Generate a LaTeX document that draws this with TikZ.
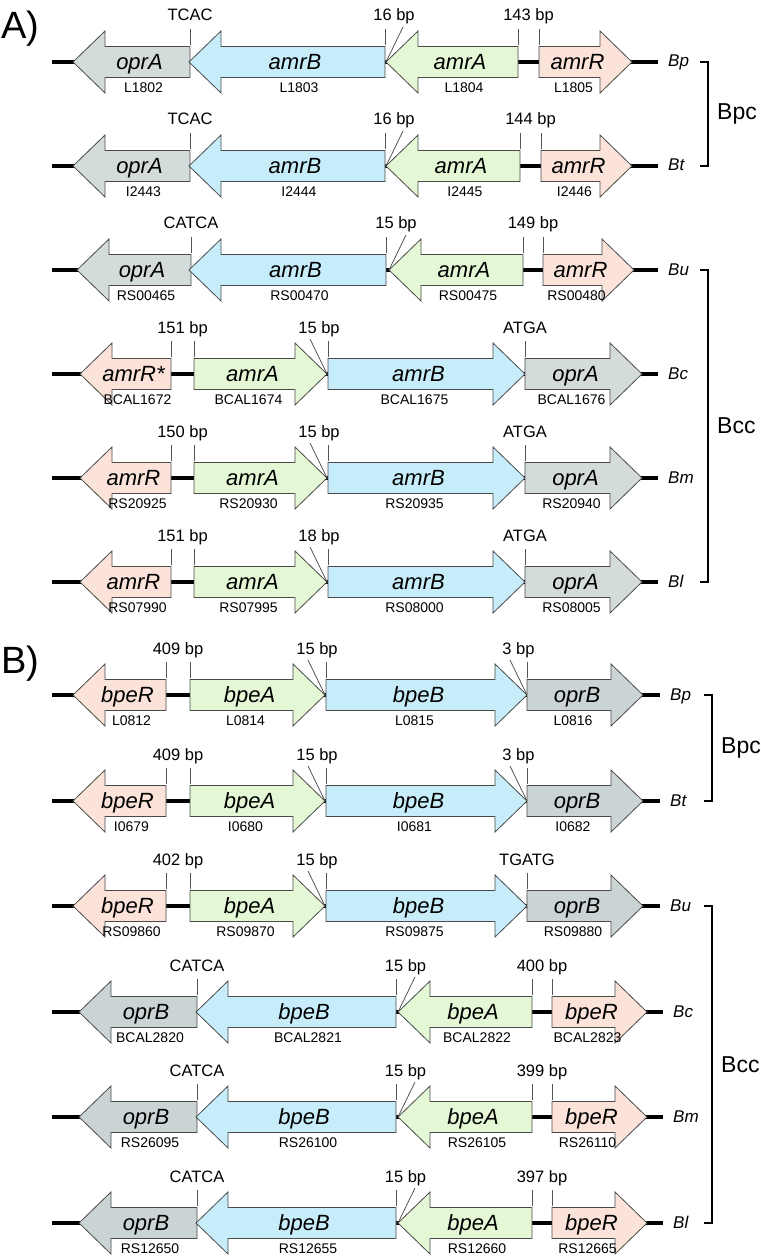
\documentclass[tikz,border=0pt]{standalone}
\usepackage{fontspec}
\setmainfont{Liberation Sans}
\usetikzlibrary{calc, backgrounds}
\definecolor{oprAgray}{HTML}{D3DCDA}
\definecolor{oprBgray}{HTML}{CBD4D4}
\definecolor{rndblue}{HTML}{C8EDFA}
\definecolor{mfpgreen}{HTML}{E4F8D6}
\definecolor{regpink}{HTML}{FBE3DA}
\definecolor{edgegray}{HTML}{4A4A4A}
\definecolor{tickgray}{HTML}{555555}

% arrow geometry (px)
\newcommand{\headlen}{32}
\newcommand{\headhw}{31}
\newcommand{\bodyhw}{15.5}

% gene arrow: name, tip x, tail x, row y, fill, gene, locus tag
\newcommand{\gene}[7]{%
  \pgfmathsetmacro{\gdir}{sign(#3-#2)}%
  \pgfmathsetmacro{\gbase}{#2+\gdir*\headlen}%
  \pgfmathsetmacro{\gmid}{(#2+#3)/2+\gdir*8}%
  \pgfmathsetmacro{\gtag}{(#2+#3)/2+\gdir*12}%
  \draw[genebox, fill=#5] (#2,#4) -- (\gbase,#4-\headhw) -- (\gbase,#4-\bodyhw)
    -- (#3,#4-\bodyhw) -- (#3,#4+\bodyhw) -- (\gbase,#4+\bodyhw)
    -- (\gbase,#4+\headhw) -- cycle;
  \coordinate (#1-tip) at (#2,#4);
  \coordinate (#1-tail) at (#3,#4);
  \node[gname] (#1) at (\gmid,#4+7.5) {#6};
  \node[gtag] (#1-id) at (\gtag,#4+30.5) {#7};
}
% backbone + strain name: prefix, west x, east x, row y, label, bracket x
\newcommand{\strain}[6]{%
  \coordinate (#1-w) at (#2,#4);
  \coordinate (#1-e) at (#3,#4);
  \coordinate (#1-k) at (#6,#4);
  \begin{pgfonlayer}{background}
    \draw[bb] (#1-w) -- (#1-e);
  \end{pgfonlayer}
  \node[strainlbl] (#1-sp) at (#3+10,#4+5) {#5};
}
% single tick with sequence above
\newcommand{\seqmark}[2]{%
  \draw[tk] ([yshift=17pt]#1) -- ([yshift=33pt]#1);
  \node[mk] (#1-seq) at ([yshift=41pt]#1) {#2};
}
% intergenic gap between two gene ends
\newcommand{\bpgap}[3]{%
  \draw[tk] ([yshift=17pt]#1) -- ([yshift=33pt]#1);
  \draw[tk] ([yshift=17pt]#2) -- ([yshift=33pt]#2);
  \node[mk] (#1-gap) at ($(#1)!0.5!(#2)+(0,-41)$) {#3};
}
% short spacer next to an arrow tip
\newcommand{\bpjoin}[4]{%
  \draw[tk] ([yshift=17pt]#2) -- ([yshift=33pt]#2);
  \draw[tk] (#1) -- ++(#3,-35);
  \node[mk] (#2-join) at ($(#2)!0.5!([xshift=#3pt]#1)+(0,-41)$) {#4};
}
% species group bracket
\newcommand{\clade}[4]{%
  \draw[brk] ([xshift=-8pt]#2-k) -- (#2-k) -- (#3-k) -- ([xshift=-8pt]#3-k);
  \node[grp] (#1) at ($(#2-k)!0.5!(#3-k)+(9,0)$) {#4};
}

\begin{document}
\begin{tikzpicture}[x=1pt, y=-1pt,
  genebox/.style={draw=edgegray, line width=0.8pt, line join=miter},
  bb/.style={black, line width=3.5pt},
  tk/.style={draw=tickgray, line width=0.8pt},
  brk/.style={black, line width=1.3pt},
  gname/.style={anchor=base, inner sep=0pt, font=\fontsize{22}{25}\selectfont\itshape},
  gtag/.style={anchor=base, inner sep=0pt, font=\fontsize{14}{16}\selectfont},
  mk/.style={anchor=base, inner sep=0pt, font=\fontsize{16.5}{18}\selectfont},
  strainlbl/.style={anchor=base west, inner sep=0pt, font=\fontsize{17}{20}\selectfont\itshape},
  grp/.style={anchor=west, inner sep=0pt, font=\fontsize{23}{26}\selectfont},
  panel/.style={anchor=base west, inner sep=0pt, font=\fontsize{38}{44}\selectfont},
]
\useasboundingbox (0,0) rectangle (760,1257);

% ===== A) amrAB-oprA =====
\node[panel] (pA) at (1,39) {A)};

% Bp
\gene{aPo}{73}{190}{62}{oprAgray}{oprA}{L1802}
\gene{aPb}{189}{385}{62}{rndblue}{amrB}{L1803}
\gene{aPa}{386}{518}{62}{mfpgreen}{amrA}{L1804}
\gene{aPr}{632}{539}{62}{regpink}{amrR}{L1805}
\strain{aP}{52}{658}{62}{Bp}{708}
\seqmark{aPo-tail}{TCAC}
\bpjoin{aPa-tip}{aPb-tail}{17}{16 bp}
\bpgap{aPa-tail}{aPr-tail}{143 bp}

% Bt
\gene{aTo}{73}{190}{166}{oprAgray}{oprA}{I2443}
\gene{aTb}{189}{385}{166}{rndblue}{amrB}{I2444}
\gene{aTa}{386}{520}{166}{mfpgreen}{amrA}{I2445}
\gene{aTr}{632}{541}{166}{regpink}{amrR}{I2446}
\strain{aT}{52}{658}{166}{Bt}{708}
\seqmark{aTo-tail}{TCAC}
\bpjoin{aTa-tip}{aTb-tail}{17}{16 bp}
\bpgap{aTa-tail}{aTr-tail}{144 bp}

% Bu
\gene{aUo}{77}{191}{270}{oprAgray}{oprA}{RS00465}
\gene{aUb}{189}{386}{270}{rndblue}{amrB}{RS00470}
\gene{aUa}{389}{523}{270}{mfpgreen}{amrA}{RS00475}
\gene{aUr}{634}{543}{270}{regpink}{amrR}{RS00480}
\strain{aU}{52}{658}{270}{Bu}{708}
\seqmark{aUo-tail}{CATCA}
\bpjoin{aUa-tip}{aUb-tail}{17}{15 bp}
\bpgap{aUa-tail}{aUr-tail}{149 bp}

% Bc
\gene{aCr}{80}{171}{374}{regpink}{amrR*}{BCAL1672}
\gene{aCa}{327}{194}{374}{mfpgreen}{amrA}{BCAL1674}
\gene{aCb}{525}{328}{374}{rndblue}{amrB}{BCAL1675}
\gene{aCo}{642}{525}{374}{oprAgray}{oprA}{BCAL1676}
\strain{aC}{52}{658}{374}{Bc}{708}
\bpgap{aCr-tail}{aCa-tail}{151 bp}
\bpjoin{aCa-tip}{aCb-tail}{-17}{15 bp}
\seqmark{aCo-tail}{ATGA}

% Bm
\gene{aMr}{80}{171}{478}{regpink}{amrR}{RS20925}
\gene{aMa}{327}{194}{478}{mfpgreen}{amrA}{RS20930}
\gene{aMb}{525}{328}{478}{rndblue}{amrB}{RS20935}
\gene{aMo}{642}{525}{478}{oprAgray}{oprA}{RS20940}
\strain{aM}{52}{658}{478}{Bm}{708}
\bpgap{aMr-tail}{aMa-tail}{150 bp}
\bpjoin{aMa-tip}{aMb-tail}{-17}{15 bp}
\seqmark{aMo-tail}{ATGA}

% Bl
\gene{aLr}{80}{171}{582}{regpink}{amrR}{RS07990}
\gene{aLa}{327}{194}{582}{mfpgreen}{amrA}{RS07995}
\gene{aLb}{525}{328}{582}{rndblue}{amrB}{RS08000}
\gene{aLo}{642}{525}{582}{oprAgray}{oprA}{RS08005}
\strain{aL}{52}{658}{582}{Bl}{708}
\bpgap{aLr-tail}{aLa-tail}{151 bp}
\bpjoin{aLa-tip}{aLb-tail}{-17}{18 bp}
\seqmark{aLo-tail}{ATGA}

\clade{aPc}{aP}{aT}{Bpc}
\clade{aCc}{aU}{aL}{Bcc}

% ===== B) bpeAB-oprB =====
\node[panel] (pB) at (1,673) {B)};

% Bp
\gene{bPr}{73}{166}{695}{regpink}{bpeR}{L0812}
\gene{bPa}{325}{190}{695}{mfpgreen}{bpeA}{L0814}
\gene{bPb}{527}{326}{695}{rndblue}{bpeB}{L0815}
\gene{bPo}{643}{527}{695}{oprBgray}{oprB}{L0816}
\strain{bP}{52}{660}{695}{Bp}{712}
\bpgap{bPr-tail}{bPa-tail}{409 bp}
\bpjoin{bPa-tip}{bPb-tail}{-17}{15 bp}
\bpjoin{bPb-tip}{bPo-tail}{-17}{3 bp}

% Bt
\gene{bTr}{73}{166}{801}{regpink}{bpeR}{I0679}
\gene{bTa}{325}{190}{801}{mfpgreen}{bpeA}{I0680}
\gene{bTb}{527}{326}{801}{rndblue}{bpeB}{I0681}
\gene{bTo}{643}{527}{801}{oprBgray}{oprB}{I0682}
\strain{bT}{52}{660}{801}{Bt}{712}
\bpgap{bTr-tail}{bTa-tail}{409 bp}
\bpjoin{bTa-tip}{bTb-tail}{-17}{15 bp}
\bpjoin{bTb-tip}{bTo-tail}{-17}{3 bp}

% Bu
\gene{bUr}{73}{166}{906}{regpink}{bpeR}{RS09860}
\gene{bUa}{325}{190}{906}{mfpgreen}{bpeA}{RS09870}
\gene{bUb}{527}{326}{906}{rndblue}{bpeB}{RS09875}
\gene{bUo}{643}{527}{906}{oprBgray}{oprB}{RS09880}
\strain{bU}{52}{660}{906}{Bu}{712}
\bpgap{bUr-tail}{bUa-tail}{402 bp}
\bpjoin{bUa-tip}{bUb-tail}{-17}{15 bp}
\seqmark{bUo-tail}{TGATG}

% Bc
\gene{bCo}{79}{197}{1012}{oprBgray}{oprB}{BCAL2820}
\gene{bCb}{196}{396}{1012}{rndblue}{bpeB}{BCAL2821}
\gene{bCa}{398}{532}{1012}{mfpgreen}{bpeA}{BCAL2822}
\gene{bCr}{647}{552}{1012}{regpink}{bpeR}{BCAL2823}
\strain{bC}{52}{663}{1012}{Bc}{712}
\seqmark{bCo-tail}{CATCA}
\bpjoin{bCa-tip}{bCb-tail}{17}{15 bp}
\bpgap{bCa-tail}{bCr-tail}{400 bp}

% Bm
\gene{bMo}{79}{197}{1117}{oprBgray}{oprB}{RS26095}
\gene{bMb}{196}{396}{1117}{rndblue}{bpeB}{RS26100}
\gene{bMa}{398}{532}{1117}{mfpgreen}{bpeA}{RS26105}
\gene{bMr}{647}{552}{1117}{regpink}{bpeR}{RS26110}
\strain{bM}{52}{663}{1117}{Bm}{712}
\seqmark{bMo-tail}{CATCA}
\bpjoin{bMa-tip}{bMb-tail}{17}{15 bp}
\bpgap{bMa-tail}{bMr-tail}{399 bp}

% Bl
\gene{bLo}{79}{197}{1223}{oprBgray}{oprB}{RS12650}
\gene{bLb}{196}{396}{1223}{rndblue}{bpeB}{RS12655}
\gene{bLa}{398}{532}{1223}{mfpgreen}{bpeA}{RS12660}
\gene{bLr}{647}{552}{1223}{regpink}{bpeR}{RS12665}
\strain{bL}{52}{663}{1223}{Bl}{712}
\seqmark{bLo-tail}{CATCA}
\bpjoin{bLa-tip}{bLb-tail}{17}{15 bp}
\bpgap{bLa-tail}{bLr-tail}{397 bp}

\clade{bPc}{bP}{bT}{Bpc}
\clade{bCc}{bU}{bL}{Bcc}
\end{tikzpicture}
\end{document}
